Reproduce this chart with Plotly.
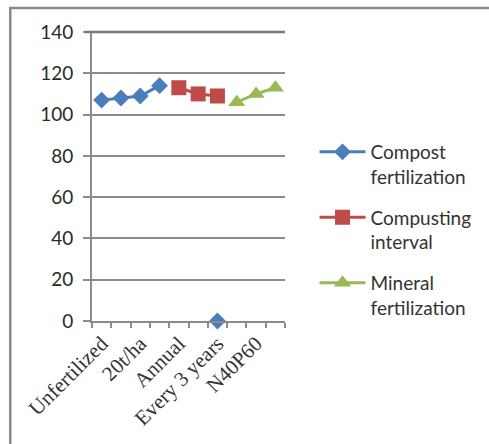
import plotly.graph_objects as go

# Category positions along the x axis (10 treatments); only every other one is labelled
positions = list(range(10))
tick_positions = [0, 2, 4, 6, 8]
tick_labels = ["Unfertilized", "20t/ha", "Annual", "Every 3 years", "N40P60"]

# Series values (None = no value for that treatment)
compost = [107, 108, 109, 114, None, None, 0, None, None, None]
interval = [None, None, None, None, 113, 110, 109, None, None, None]
mineral = [None, None, None, None, None, None, None, 106, 110, 113]

BLUE = "#4A7EBB"
RED = "#BE4B48"
GREEN = "#98B954"
GRID = "#8C8C8C"

W, H = 489, 444
L, R, T, B = 92, 288, 32, 321

fig = go.Figure()
fig.add_trace(go.Scatter(
    x=positions, y=compost, name="Compost<br>fertilization", mode="lines+markers",
    legendgroup="a",
    line=dict(color=BLUE, width=3), marker=dict(symbol="diamond", size=13, color=BLUE),
    connectgaps=False, cliponaxis=False))
fig.add_trace(go.Scatter(
    x=positions, y=interval, name="Compusting<br>interval", mode="lines+markers",
    legendgroup="b",
    line=dict(color=RED, width=3), marker=dict(symbol="square", size=15, color=RED),
    connectgaps=False, cliponaxis=False))
fig.add_trace(go.Scatter(
    x=positions, y=mineral, name="Mineral<br>fertilization", mode="lines+markers",
    legendgroup="c",
    line=dict(color=GREEN, width=3), marker=dict(symbol="triangle-up", size=15, color=GREEN),
    connectgaps=False, cliponaxis=False))


def px_x(x):
    return (x - L) / (R - L)


def px_y(y):
    return (B - y) / (B - T)


fig.update_layout(
    width=W, height=H,
    margin=dict(l=L, r=W - R, t=T, b=H - B),
    paper_bgcolor="white", plot_bgcolor="white",
    font=dict(family="Lato, Liberation Sans, sans-serif", color="#222"),
    showlegend=True,
    legend=dict(
        x=px_x(318), y=px_y(133), xanchor="left", yanchor="top",
        font=dict(size=19, family="Lato, sans-serif", color="#333"),
        itemwidth=46, traceorder="grouped", tracegroupgap=13, valign="top",
        bgcolor="rgba(0,0,0,0)",
    ),
    xaxis=dict(
        range=[-0.5, 9.5], showgrid=False, zeroline=False,
        tickmode="array", tickvals=tick_positions, ticktext=tick_labels,
        tickangle=-45, ticks="", ticklen=0,
        tickfont=dict(family="Liberation Serif, serif", size=21, color="#333"),
        showline=True, linecolor=GRID, linewidth=2,
        minor=dict(tickmode="array", tickvals=[p - 0.5 for p in positions] + [9.5],
                   ticks="outside", ticklen=5, tickcolor=GRID, tickwidth=1.5, showgrid=False),
    ),
    yaxis=dict(
        range=[0, 140], dtick=20, tick0=0, showgrid=True, gridcolor=GRID, gridwidth=1.5,
        zeroline=False, ticks="outside", ticklen=7, tickcolor=GRID, tickwidth=1.5,
        showline=True, linecolor=GRID, linewidth=2, ticklabelstandoff=6,
        tickfont=dict(family="Lato, sans-serif", size=19, color="#2A2A2A"),
    ),
    shapes=[
        dict(type="rect", xref="paper", yref="paper",
             x0=px_x(9), x1=px_x(520), y0=px_y(480), y1=px_y(8),
             line=dict(color="#8A8A8A", width=2.5), fillcolor="rgba(0,0,0,0)", layer="below"),
        dict(type="line", xref="paper", yref="paper",
             x0=px_x(85), x1=1, y0=1, y1=1, line=dict(color="#7A7A7A", width=2.5)),
    ],
)

fig.write_html("out.html")
